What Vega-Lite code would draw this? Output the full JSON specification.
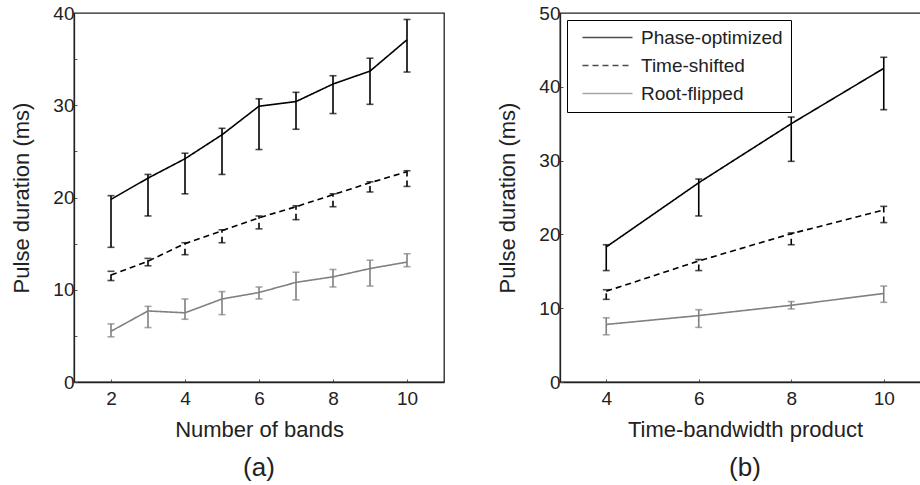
{
  "$schema": "https://vega.github.io/schema/vega-lite/v6.json",
  "padding": {"left": 10, "top": 3, "right": 0, "bottom": 0},
  "background": "white",
  "datasets": {
    "a": [
      {"series": "Phase-optimized", "x": 2, "y": 19.8, "lo": 14.6, "hi": 20.2},
      {"series": "Phase-optimized", "x": 3, "y": 22.1, "lo": 18.0, "hi": 22.5},
      {"series": "Phase-optimized", "x": 4, "y": 24.2, "lo": 20.4, "hi": 24.8},
      {"series": "Phase-optimized", "x": 5, "y": 26.8, "lo": 22.5, "hi": 27.5},
      {"series": "Phase-optimized", "x": 6, "y": 29.9, "lo": 25.2, "hi": 30.7},
      {"series": "Phase-optimized", "x": 7, "y": 30.4, "lo": 27.4, "hi": 31.4},
      {"series": "Phase-optimized", "x": 8, "y": 32.3, "lo": 29.1, "hi": 33.2},
      {"series": "Phase-optimized", "x": 9, "y": 33.7, "lo": 30.1, "hi": 35.1},
      {"series": "Phase-optimized", "x": 10, "y": 37.1, "lo": 33.6, "hi": 39.3},
      {"series": "Time-shifted", "x": 2, "y": 11.6, "lo": 11.0, "hi": 12.0},
      {"series": "Time-shifted", "x": 3, "y": 13.1, "lo": 12.6, "hi": 13.4},
      {"series": "Time-shifted", "x": 4, "y": 15.0, "lo": 13.8, "hi": 15.1},
      {"series": "Time-shifted", "x": 5, "y": 16.4, "lo": 15.1, "hi": 16.5},
      {"series": "Time-shifted", "x": 6, "y": 17.8, "lo": 16.6, "hi": 18.0},
      {"series": "Time-shifted", "x": 7, "y": 19.0, "lo": 17.6, "hi": 19.1},
      {"series": "Time-shifted", "x": 8, "y": 20.3, "lo": 19.0, "hi": 20.4},
      {"series": "Time-shifted", "x": 9, "y": 21.6, "lo": 20.6, "hi": 21.7},
      {"series": "Time-shifted", "x": 10, "y": 22.8, "lo": 21.2, "hi": 22.9},
      {"series": "Root-flipped", "x": 2, "y": 5.5, "lo": 4.9, "hi": 6.3},
      {"series": "Root-flipped", "x": 3, "y": 7.7, "lo": 5.9, "hi": 8.2},
      {"series": "Root-flipped", "x": 4, "y": 7.5, "lo": 6.8, "hi": 9.0},
      {"series": "Root-flipped", "x": 5, "y": 9.0, "lo": 7.3, "hi": 9.8},
      {"series": "Root-flipped", "x": 6, "y": 9.7, "lo": 9.0, "hi": 10.3},
      {"series": "Root-flipped", "x": 7, "y": 10.8, "lo": 8.9, "hi": 11.9},
      {"series": "Root-flipped", "x": 8, "y": 11.4, "lo": 10.3, "hi": 12.2},
      {"series": "Root-flipped", "x": 9, "y": 12.3, "lo": 10.4, "hi": 13.2},
      {"series": "Root-flipped", "x": 10, "y": 13.0, "lo": 12.5, "hi": 13.9}
    ],
    "b": [
      {"series": "Phase-optimized", "x": 4, "y": 18.3, "lo": 15.1, "hi": 18.6},
      {"series": "Phase-optimized", "x": 6, "y": 27.0, "lo": 22.5, "hi": 27.5},
      {"series": "Phase-optimized", "x": 8, "y": 35.0, "lo": 29.9, "hi": 35.9},
      {"series": "Phase-optimized", "x": 10, "y": 42.5, "lo": 36.9, "hi": 44.0},
      {"series": "Time-shifted", "x": 4, "y": 12.3, "lo": 11.2, "hi": 12.5},
      {"series": "Time-shifted", "x": 6, "y": 16.4, "lo": 15.1, "hi": 16.6},
      {"series": "Time-shifted", "x": 8, "y": 20.1, "lo": 18.6, "hi": 20.2},
      {"series": "Time-shifted", "x": 10, "y": 23.3, "lo": 21.6, "hi": 23.8},
      {"series": "Root-flipped", "x": 4, "y": 7.8, "lo": 6.4, "hi": 8.7},
      {"series": "Root-flipped", "x": 6, "y": 9.0, "lo": 7.4, "hi": 9.8},
      {"series": "Root-flipped", "x": 8, "y": 10.4, "lo": 9.9, "hi": 10.9},
      {"series": "Root-flipped", "x": 10, "y": 12.0, "lo": 10.8, "hi": 13.0}
    ]
  },
  "config": {
    "font": "Liberation Sans",
    "view": {"stroke": "#222", "strokeWidth": 1.3},
    "axis": {
      "grid": false,
      "labelFont": "Liberation Sans",
      "labelFontSize": 19,
      "labelColor": "#222",
      "titleFont": "Liberation Sans",
      "titleFontSize": 22,
      "titleFontWeight": "normal",
      "titleColor": "#222",
      "domainColor": "#222",
      "domainWidth": 1.3,
      "tickColor": "#555",
      "tickSize": -3
    },
    "axisX": {"labelPadding": 10, "titlePadding": 11},
    "axisY": {"labelPadding": 3, "titlePadding": 19},
    "legend": {
      "labelFont": "Liberation Sans",
      "labelFontSize": 19,
      "labelColor": "#222"
    },
    "title": {"font": "Liberation Sans", "fontSize": 26, "fontWeight": "normal", "color": "#222"}
  },
  "hconcat": [
    {
      "width": 370,
      "height": 369,
      "title": {"text": "(a)", "orient": "bottom", "offset": 15},
      "data": {"name": "a"},
      "encoding": {
        "x": {"field": "x", "type": "quantitative", "scale": {"domain": [1, 11], "nice": false},
              "axis": {"values": [2, 4, 6, 8, 10], "title": "Number of bands"}},
        "color": {"field": "series", "type": "nominal",
                  "scale": {"domain": ["Phase-optimized", "Time-shifted", "Root-flipped"], "range": ["#000000", "#000000", "#808080"]},
                  "legend": null},
        "strokeDash": {"field": "series", "type": "nominal",
                  "scale": {"domain": ["Phase-optimized", "Time-shifted", "Root-flipped"], "range": [[1, 0], [6, 4], [1, 0]]},
                  "legend": null}
      },
      "layer": [
        {"mark": {"type": "line", "strokeWidth": 1.6},
         "encoding": {"y": {"field": "y", "type": "quantitative", "scale": {"domain": [0, 40], "nice": false},
            "axis": {"values": [0, 5, 10, 15, 20, 25, 30, 35, 40], "labelExpr": "datum.value % 10 === 0 ? datum.label : ''", "title": "Pulse duration (ms)"}}}},
        {"mark": {"type": "rule", "strokeWidth": 1.6},
         "encoding": {"y": {"field": "lo", "type": "quantitative"}, "y2": {"field": "hi"}}},
        {"mark": {"type": "tick", "orient": "horizontal", "size": 7, "thickness": 1.6},
         "encoding": {"y": {"field": "lo", "type": "quantitative"}, "strokeDash": {"value": [1, 0]}}},
        {"mark": {"type": "tick", "orient": "horizontal", "size": 7, "thickness": 1.6},
         "encoding": {"y": {"field": "hi", "type": "quantitative"}, "strokeDash": {"value": [1, 0]}}}
      ]
    },
    {
      "width": 370,
      "height": 369,
      "title": {"text": "(b)", "orient": "bottom", "offset": 15},
      "data": {"name": "b"},
      "encoding": {
        "x": {"field": "x", "type": "quantitative", "scale": {"domain": [3, 11], "nice": false},
              "axis": {"values": [4, 6, 8, 10], "title": "Time-bandwidth product"}},
        "color": {"field": "series", "type": "nominal",
                  "scale": {"domain": ["Phase-optimized", "Time-shifted", "Root-flipped"], "range": ["#000000", "#000000", "#808080"]},
                  "legend": {"title": null, "orient": "top-left", "offset": 7, "symbolType": "M-1,0H24", "symbolSize": 16, "symbolStrokeWidth": 1.6,
                             "strokeColor": "#000", "padding": 8, "fillColor": "white", "labelOffset": 47, "rowPadding": 8}},
        "strokeDash": {"field": "series", "type": "nominal",
                  "scale": {"domain": ["Phase-optimized", "Time-shifted", "Root-flipped"], "range": [[1, 0], [6, 4], [1, 0]]},
                  "legend": {"title": null, "orient": "top-left", "offset": 7, "symbolType": "M-1,0H24", "symbolSize": 16, "symbolStrokeWidth": 1.6,
                             "strokeColor": "#000", "padding": 8, "fillColor": "white", "labelOffset": 47, "rowPadding": 8}}
      },
      "layer": [
        {"mark": {"type": "line", "strokeWidth": 1.6},
         "encoding": {"y": {"field": "y", "type": "quantitative", "scale": {"domain": [0, 50], "nice": false},
            "axis": {"values": [0, 10, 20, 30, 40, 50], "title": "Pulse duration (ms)"}}}},
        {"mark": {"type": "rule", "strokeWidth": 1.6},
         "encoding": {"y": {"field": "lo", "type": "quantitative"}, "y2": {"field": "hi"}}},
        {"mark": {"type": "tick", "orient": "horizontal", "size": 7, "thickness": 1.6},
         "encoding": {"y": {"field": "lo", "type": "quantitative"}, "strokeDash": {"value": [1, 0]}}},
        {"mark": {"type": "tick", "orient": "horizontal", "size": 7, "thickness": 1.6},
         "encoding": {"y": {"field": "hi", "type": "quantitative"}, "strokeDash": {"value": [1, 0]}}}
      ]
    }
  ],
  "resolve": {"scale": {"x": "independent", "y": "independent"}, "legend": {"color": "independent", "strokeDash": "independent"}},
  "spacing": 51
}
